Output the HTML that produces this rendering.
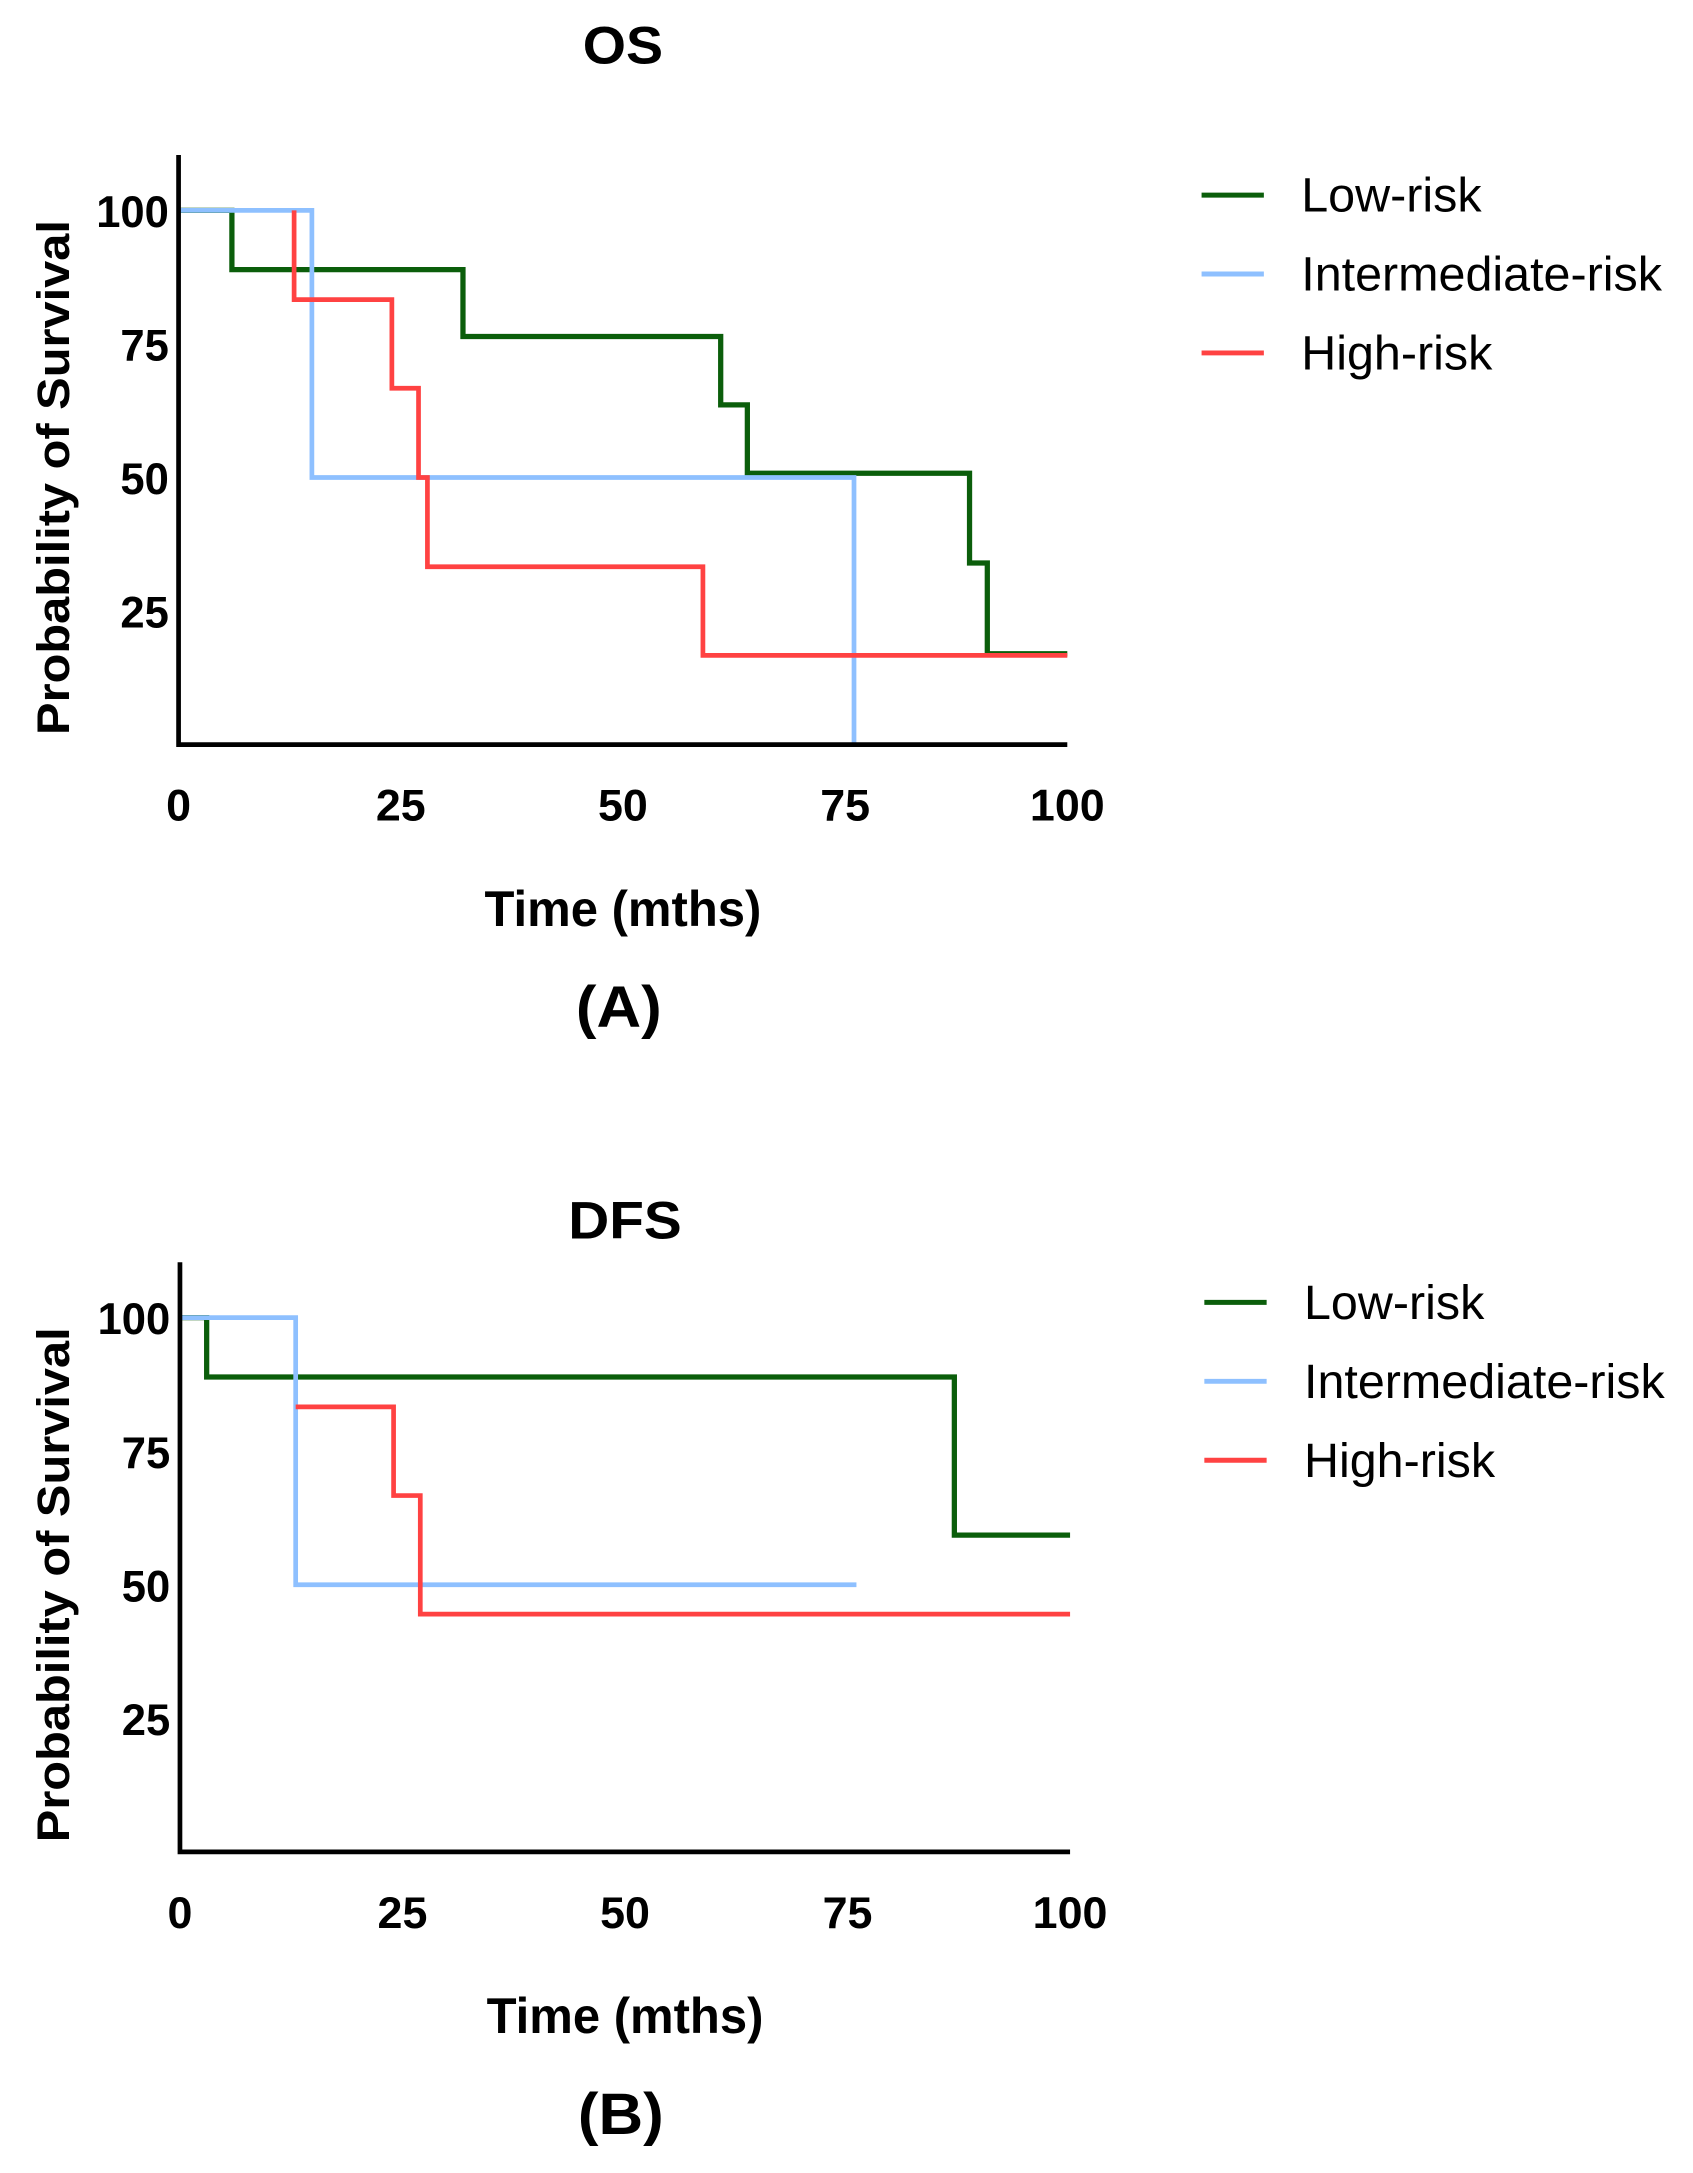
<!DOCTYPE html>
<html><head><meta charset="utf-8">
<style>
html,body{margin:0;padding:0;background:#fff;}
svg{display:block;}
text{font-family:"Liberation Sans",Arial,sans-serif;}
.b{font-weight:bold;}
</style></head>
<body>
<svg id="fig" width="1693" height="2173" viewBox="0 0 1223 1570" preserveAspectRatio="none" xmlns="http://www.w3.org/2000/svg"></svg>
<script>
// ---- Data (OS panel) ----
const osLowT = [0, 6, 32, 61, 64, 89, 91, 100];
const osLowS = [100, 88.9, 76.4, 63.6, 50.8, 34, 17, 17];
const osIntT = [0, 15, 76, 76];
const osIntS = [100, 50, 0, 0];
const osHighT = [13, 13, 24, 27, 28, 59, 100];
const osHighS = [100, 83.3, 66.7, 50, 33.3, 16.7, 16.7];
// ---- Data (DFS panel) ----
const dfsLowT = [0, 3, 87, 100];
const dfsLowS = [100, 88.9, 59.3, 59.3];
const dfsIntT = [0, 13, 76];
const dfsIntS = [100, 50, 50];
const dfsHighT = [13, 24, 27, 100];
const dfsHighS = [83.3, 66.7, 44.5, 44.5];
// ---- Ticks ----
const xTicks = [0, 25, 50, 75, 100];
const yTicks = [25, 50, 75, 100];
const seriesNames = ["Low-risk", "Intermediate-risk", "High-risk"];
const seriesColors = ["#0b5e0b", "#8ec0ff", "#ff4242"];
const seriesWidths = [3.8, 3.4, 3.4];

const NS = "http://www.w3.org/2000/svg";
const svg = document.getElementById('fig');
function mk(tag, attrs, parent) {
  const e = document.createElementNS(NS, tag);
  for (const k in attrs) e.setAttribute(k, attrs[k]);
  (parent || svg).appendChild(e);
  return e;
}

function panel(cfg) {
  const g = mk('g', {});
  
  
  const sx = t => cfg.x0 + (t / 100) * (cfg.x1 - cfg.x0);
  const sy = s => cfg.y0 - (s / 100) * (cfg.y0 - cfg.y100);

  cfg.series.forEach((ser, i) => {
    let d = '';
    for (let k = 0; k < ser.t.length; k++) {
      const x = sx(ser.t[k]), y = sy(ser.s[k]);
      if (k === 0) d += 'M' + x + ' ' + y;
      else d += ' H' + x + ' V' + y;
    }
    const p = mk('path', {d: d, fill: 'none', stroke: seriesColors[i], 'stroke-width': seriesWidths[i]}, g);
    
    
  });

  const ax = mk('path', {d: 'M' + cfg.x0 + ' ' + cfg.yTop + ' V' + cfg.y0 + ' H' + cfg.x1, fill: 'none', stroke: '#000', 'stroke-width': 3.4}, g);
  
  

  yTicks.forEach(v => {
    const s = String(v);
    const t = mk('text', {x: cfg.x0 - 7, y: sy(v) + 12, 'text-anchor': 'end', 'font-size': 32, class: 'b', textLength: s.length * 17.5, lengthAdjust: 'spacingAndGlyphs'}, g);
    t.textContent = s;
    
    
  });
  xTicks.forEach(v => {
    const s = String(v);
    const t = mk('text', {x: sx(v), y: cfg.y0 + 55, 'text-anchor': 'middle', 'font-size': 32, class: 'b', textLength: s.length * 18, lengthAdjust: 'spacingAndGlyphs'}, g);
    t.textContent = s;
    
    
  });

  const yt = mk('text', {x: 0, y: 0, 'text-anchor': 'middle', 'font-size': 33, class: 'b', textLength: 372, lengthAdjust: 'spacingAndGlyphs', transform: 'translate(50,' + ((cfg.yTop + cfg.y0) / 2 + 20) + ') rotate(-90)'}, g);
  yt.textContent = 'Probability of Survival';
  
  

  const xt = mk('text', {x: (cfg.x0 + cfg.x1) / 2, y: cfg.y0 + 131, 'text-anchor': 'middle', 'font-size': 36, class: 'b', textLength: 200, lengthAdjust: 'spacingAndGlyphs'}, g);
  xt.textContent = 'Time (mths)';
  
  

  const tt = mk('text', {x: (cfg.x0 + cfg.x1) / 2, y: cfg.titleY, 'text-anchor': 'middle', 'font-size': 38, class: 'b', textLength: cfg.titleW, lengthAdjust: 'spacingAndGlyphs'}, g);
  tt.textContent = cfg.title;
  
  

  const lb = mk('text', {x: (cfg.x0 + cfg.x1) / 2 - 3, y: cfg.y0 + 204, 'text-anchor': 'middle', 'font-size': 42, class: 'b', textLength: 62, lengthAdjust: 'spacingAndGlyphs'}, g);
  lb.textContent = cfg.label;
  
  

  seriesNames.forEach((n, i) => {
    const ly = cfg.legY + i * 57;
    const l = mk('line', {x1: cfg.legX, x2: cfg.legX + 45, y1: ly, y2: ly, stroke: seriesColors[i], 'stroke-width': 3.6}, g);
    
    
    const t = mk('text', {x: cfg.legX + 72, y: ly + 12, 'font-size': 35}, g);
    t.textContent = n;
    
    
  });
}

panel({name: 'os-chart', title: 'OS', titleW: 58, label: '(A)', x0: 129, x1: 771, y0: 538, y100: 152, yTop: 112, titleY: 46,
  legX: 868, legY: 141,
  series: [{t: osLowT, s: osLowS}, {t: osIntT, s: osIntS}, {t: osHighT, s: osHighS}]});
panel({name: 'dfs-chart', title: 'DFS', titleW: 82, label: '(B)', x0: 130, x1: 773, y0: 1338, y100: 952, yTop: 912, titleY: 895,
  legX: 870, legY: 941,
  series: [{t: dfsLowT, s: dfsLowS}, {t: dfsIntT, s: dfsIntS}, {t: dfsHighT, s: dfsHighS}]});
</script>
</body></html>
